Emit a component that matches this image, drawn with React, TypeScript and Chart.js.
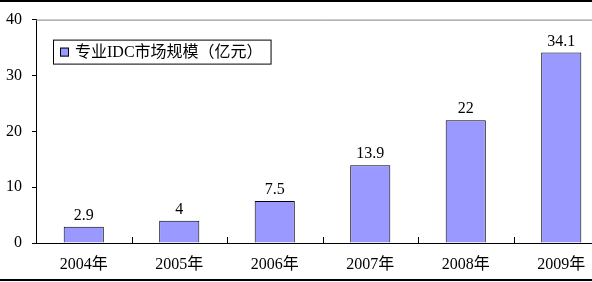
import React, { useEffect, useRef } from "react";
import { Chart, registerables } from "chart.js";

Chart.register(...registerables);

const categories = ["2004年", "2005年", "2006年", "2007年", "2008年", "2009年"];
const marketSize = [2.9, 4, 7.5, 13.9, 22, 34.1];
const seriesName = "专业IDC市场规模（亿元）";
const yTicks = [0, 10, 20, 30, 40];

const FONT = '"Liberation Serif", "Noto Sans CJK SC", serif';

const decorPlugin = {
  id: "decor",
  afterDraw(chart: any) {
    const { ctx, chartArea, width, height } = chart;
    const x = chart.scales.x;
    ctx.save();
    // outer frame lines
    ctx.fillStyle = "#000";
    ctx.fillRect(0, 0, width, 2);
    ctx.fillRect(0, height - 3, width, 2);
    // plot top border
    ctx.strokeStyle = "#808080";
    ctx.lineWidth = 1;
    ctx.beginPath();
    ctx.moveTo(chartArea.left, chartArea.top + 0.5);
    ctx.lineTo(chartArea.right, chartArea.top + 0.5);
    ctx.stroke();
    // inside x tick marks at category boundaries
    ctx.strokeStyle = "#000";
    const n = categories.length;
    for (let i = 1; i < n; i++) {
      const bx = Math.round((x.getPixelForValue(i - 1) + x.getPixelForValue(i)) / 2) + 0.5;
      ctx.beginPath();
      ctx.moveTo(bx, chartArea.bottom);
      ctx.lineTo(bx, chartArea.bottom - 6);
      ctx.stroke();
    }
    // data labels
    ctx.fillStyle = "#000";
    ctx.font = "16px " + FONT;
    ctx.textAlign = "center";
    ctx.textBaseline = "alphabetic";
    const meta = chart.getDatasetMeta(0);
    meta.data.forEach((bar: any, i: number) => {
      ctx.fillText(String(marketSize[i]), bar.x, bar.y - 7);
    });
    // legend box
    ctx.font = "16px " + FONT;
    ctx.textAlign = "left";
    ctx.textBaseline = "middle";
    const lx = chartArea.left + 17;
    const ly = chartArea.top + 20;
    const tw = ctx.measureText(seriesName).width;
    const bw = 22 + tw + 8;
    const bh = 24;
    ctx.strokeStyle = "#000";
    ctx.strokeRect(lx + 0.5, ly + 0.5, bw, bh);
    ctx.fillStyle = "#9999FF";
    ctx.fillRect(lx + 7, ly + 8, 9, 9);
    ctx.strokeRect(lx + 7.5, ly + 8.5, 8, 8);
    ctx.fillStyle = "#000";
    ctx.fillText(seriesName, lx + 22, ly + bh / 2 + 1);
    ctx.restore();
  },
};

export default function App() {
  const ref = useRef<HTMLCanvasElement>(null);
  useEffect(() => {
    if (!ref.current) return;
    const chart = new Chart(ref.current, {
      type: "bar",
      data: {
        labels: categories,
        datasets: [
          {
            label: seriesName,
            data: marketSize,
            backgroundColor: "#9999FF",
            borderColor: "#000",
            borderWidth: 1,
            barPercentage: 0.42,
            categoryPercentage: 1,
          },
        ],
      },
      options: {
        animation: false,
        responsive: false,
        devicePixelRatio: 1,
        layout: { padding: { top: 17, right: 11, left: 0, bottom: 0 } },
        plugins: { legend: { display: false }, tooltip: { enabled: false } },
        scales: {
          x: {
            grid: { display: false },
            border: { display: true, color: "#000", width: 1 },
            ticks: { color: "#000", font: { size: 16, family: FONT }, padding: 4, maxRotation: 0 },
            afterFit: (s: any) => { s.height = 39; },
          },
          y: {
            min: 0,
            max: 40,
            afterBuildTicks: (s: any) => { s.ticks = yTicks.map((v) => ({ value: v })); },
            grid: { display: true, drawOnChartArea: false, drawTicks: true, tickLength: 4, color: "#000" },
            border: { display: true, color: "#000", width: 1 },
            ticks: { color: "#000", font: { size: 16, family: FONT }, padding: 10 },
            afterFit: (s: any) => { s.width = 36; },
          },
        },
      },
      plugins: [decorPlugin],
    });
    return () => chart.destroy();
  }, []);
  return (
    <div style={{ position: "fixed", left: 0, top: 0, width: 592, height: 282, overflow: "hidden", background: "#fff" }}>
      <canvas ref={ref} width={620} height={282} style={{ display: "block", width: 620, height: 282 }} />
    </div>
  );
}
